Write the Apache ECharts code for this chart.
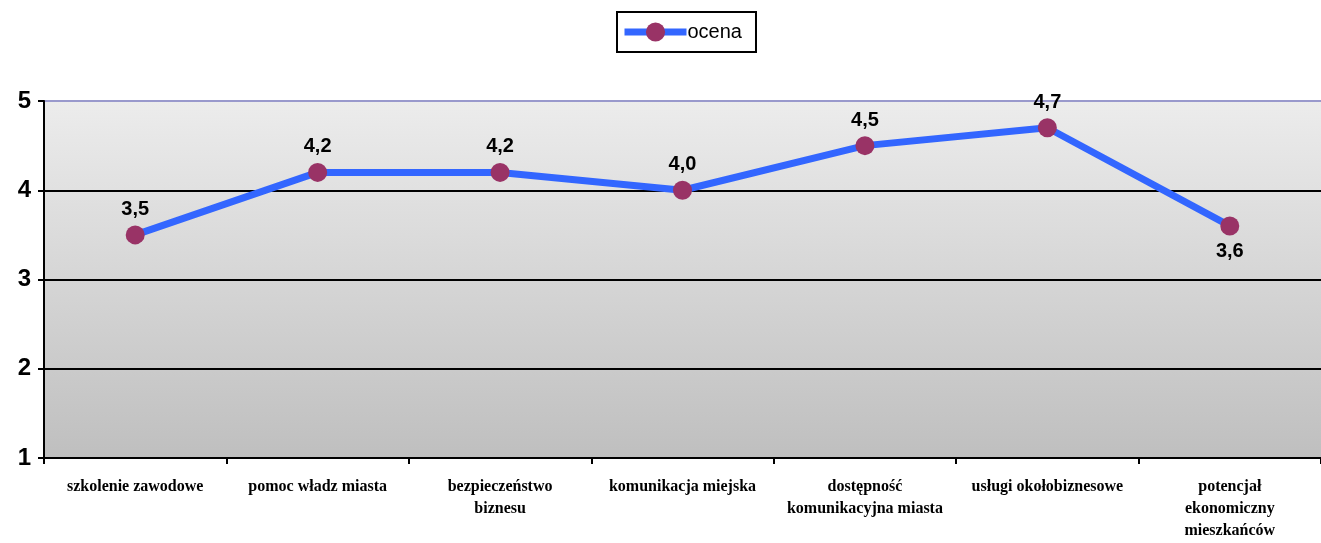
<!DOCTYPE html>
<html>
<head>
<meta charset="utf-8">
<script src="https://cdn.jsdelivr.net/npm/echarts@6/dist/echarts.min.js"></script>
<style>
  html, body { margin: 0; padding: 0; background: #fff; }
  #chart { width: 1321px; height: 543px; }
</style>
</head>
<body>
<div id="chart"></div>
<script>
const categories = [
  'szkolenie zawodowe',
  'pomoc władz miasta',
  'bezpieczeństwo\nbiznesu',
  'komunikacja miejska',
  'dostępność\nkomunikacyjna miasta',
  'usługi okołobiznesowe',
  'potencjał\nekonomiczny\nmieszkańców'
];
const ocena = [3.5, 4.2, 4.2, 4.0, 4.5, 4.7, 3.6];
const labelBelow = [false, false, false, false, false, false, true];

const chart = echarts.init(document.getElementById('chart'));

chart.setOption({
  animation: false,
  legend: {
    top: 12,
    left: 617,
    data: ['ocena'],
    borderColor: '#000',
    borderWidth: 2,
    padding: [10, 14, 10, 4],
    itemWidth: 62,
    itemHeight: 24,
    itemGap: 0,
    lineStyle: { width: 7 },
    textStyle: { fontFamily: 'Liberation Sans, Arial', fontSize: 20, color: '#000', padding: [0, 0, 0, -4] }
  },
  grid: {
    left: 44, right: 0, top: 101, bottom: 85,
    show: true,
    borderWidth: 0,
    backgroundColor: new echarts.graphic.LinearGradient(0, 0, 0, 1, [
      { offset: 0, color: '#ececec' },
      { offset: 1, color: '#bfbfbf' }
    ])
  },
  xAxis: {
    type: 'category',
    data: categories,
    boundaryGap: true,
    axisLine: { lineStyle: { color: '#000', width: 2 } },
    axisTick: { show: true, length: 6, lineStyle: { color: '#000', width: 2 } },
    axisLabel: {
      interval: 0,
      margin: 18,
      color: '#000',
      fontFamily: 'Liberation Serif, Times New Roman',
      fontWeight: 'bold',
      fontSize: 16,
      lineHeight: 22
    }
  },
  yAxis: {
    type: 'value',
    min: 1, max: 5, interval: 1,
    axisLine: { show: true, lineStyle: { color: '#000', width: 2 } },
    axisTick: { show: true, length: 6, lineStyle: { color: '#000', width: 2 } },
    axisLabel: {
      margin: 13,
      color: '#000',
      fontFamily: 'Liberation Sans, Arial',
      fontWeight: 'bold',
      fontSize: 24
    },
    splitLine: {
      show: true,
      lineStyle: { color: ['#000', '#000', '#000', '#000', '#9999cc'], width: 2 }
    }
  },
  series: [{
    name: 'ocena',
    type: 'line',
    data: ocena.map((v, i) => ({
      value: v,
      label: { position: labelBelow[i] ? 'bottom' : 'top' }
    })),
    symbol: 'circle',
    symbolSize: 19,
    lineStyle: { color: '#3366ff', width: 7 },
    itemStyle: { color: '#993366' },
    label: {
      show: true,
      distance: 6,
      color: '#000',
      fontFamily: 'Liberation Sans, Arial',
      fontWeight: 'bold',
      fontSize: 20,
      formatter: p => p.value.toFixed(1).replace('.', ',')
    }
  }]
});
</script>
</body>
</html>
